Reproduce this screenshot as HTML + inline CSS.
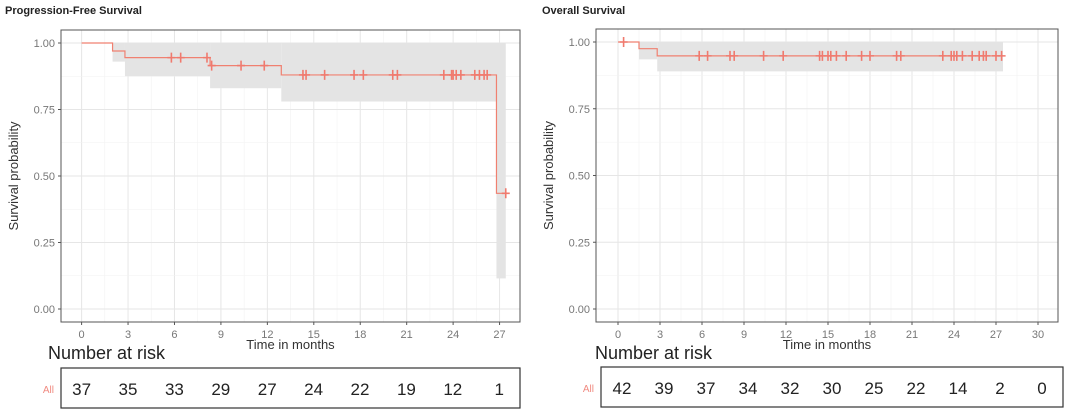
<!DOCTYPE html><html><head><style>
body{margin:0;background:#fff;width:1080px;height:409px;overflow:hidden;font-family:"Liberation Sans",sans-serif}
</style></head><body>
<svg id="s" width="1080" height="409" xmlns="http://www.w3.org/2000/svg" font-family="Liberation Sans, sans-serif"></svg>
<script>
const s=document.getElementById('s');let h='';
function panel(o){
 const X=t=>o.x0+t*o.px, Y=p=>o.y0+(o.y1-o.y0)*(1-p);
 h+=`<text x="${o.tx}" y="14" font-size="11" font-weight="bold" fill="#222">${o.title}</text>`;
 // grid
 for(let t=0;t<=o.max;t+=1.5){const x=X(t);if(x<o.L||x>o.R)continue;h+=`<line x1="${x}" x2="${x}" y1="${o.T}" y2="${o.B}" stroke="${t%3==0?'#e6e6e6':'#f2f2f2'}" stroke-width="${t%3==0?1:0.6}"/>`;}
 for(let p=0;p<=1.001;p+=0.125){const y=Y(p);h+=`<line x1="${o.L}" x2="${o.R}" y1="${y}" y2="${y}" stroke="${(p*8)%2==0?'#e6e6e6':'#f2f2f2'}" stroke-width="${(p*8)%2==0?1:0.6}"/>`;}
 // band
 for(const b of o.band)h+=`<rect x="${X(b[0])}" width="${X(b[1])-X(b[0])}" y="${Y(b[3])}" height="${Y(b[2])-Y(b[3])}" fill="#e4e4e4"/>`;
 // curve
 let d=`M${X(0)},${Y(1)}`;for(const st of o.steps){d+=` H${X(st[0])} V${Y(st[1])}`;}d+=` H${X(o.end)}`;
 h+=`<path d="${d}" fill="none" stroke="#f08070" stroke-width="1.2"/>`;
 for(const c of o.cens){const x=X(c[0]),y=Y(c[1]);h+=`<path d="M${x-4},${y}H${x+4}M${x},${y-5}V${y+5}" stroke="#f07a6e" stroke-width="1.6"/>`;}
 h+=`<rect x="${o.L}" y="${o.T}" width="${o.R-o.L}" height="${o.B-o.T}" fill="none" stroke="#555" stroke-width="1"/>`;
 for(const p of [0,0.25,0.5,0.75,1]){const y=Y(p);h+=`<text x="${o.L-6}" y="${y+4}" font-size="11" fill="#777" text-anchor="end">${p.toFixed(2)}</text><line x1="${o.L-3}" x2="${o.L}" y1="${y}" y2="${y}" stroke="#555"/>`;}
 for(let t=0;t<=o.max;t+=3){const x=X(t);h+=`<line x1="${x}" x2="${x}" y1="${o.B}" y2="${o.B+3}" stroke="#555"/><text x="${x}" y="${o.B+16}" font-size="11" fill="#777" text-anchor="middle">${t}</text>`;}
 h+=`<text x="${(o.L+o.R)/2}" y="${o.B+27}" font-size="13" fill="#333" text-anchor="middle">Time in months</text>`;
 h+=`<text transform="translate(${o.L-43},${(o.T+o.B)/2}) rotate(-90)" font-size="13" fill="#333" text-anchor="middle">Survival probability</text>`;
 h+=`<text x="${o.nx}" y="359" font-size="18" fill="#222">Number at risk</text>`;
 h+=`<rect x="${o.rL}" y="${o.rT}" width="${o.rR-o.rL}" height="40" fill="none" stroke="#333" stroke-width="1.2"/>`;
 h+=`<text x="${o.rL-7}" y="${o.rT+25}" font-size="10" fill="#f08a80" text-anchor="end">All</text>`;
 o.risk.forEach((n,i)=>{h+=`<text x="${o.rx0+i*o.rdx}" y="${o.rT+27}" font-size="17" fill="#222" text-anchor="middle">${n}</text>`;});
}
panel({title:'Progression-Free Survival',tx:5,L:61,R:520,T:30,B:322,x0:81.6,px:15.48,y0:43,y1:309,max:27,
 band:[[2,2.8,0.93,1],[2.8,8.3,0.875,1],[8.3,12.9,0.83,1],[12.9,26.8,0.78,1],[26.8,27.4,0.115,1]],
 steps:[[2,0.97],[2.8,0.945],[8.3,0.915],[12.9,0.88],[26.8,0.435]],end:27.4,
 cens:[[5.8,.945],[6.4,.945],[8.1,.945],[8.4,.915],[10.3,.915],[11.8,.915],[14.3,.88],[14.5,.88],[15.7,.88],[17.6,.88],[18.2,.88],[20.1,.88],[20.4,.88],[23.4,.88],[23.9,.88],[24.0,.88],[24.2,.88],[24.5,.88],[25.4,.88],[25.7,.88],[26.0,.88],[26.2,.88],[27.4,.435]],
 nx:48,rL:61,rR:520,rT:368,rx0:81.6,rdx:46.4,risk:[37,35,33,29,27,24,22,19,12,1]});
panel({title:'Overall Survival',tx:542,L:596,R:1058,T:29,B:322,x0:618,px:14.0,y0:42,y1:309,max:30,
 band:[[1.5,2.8,0.935,1],[2.8,27.5,0.89,1]],
 steps:[[1.5,0.975],[2.8,0.948]],end:27.5,
 cens:[[0.4,1],[5.8,.948],[6.4,.948],[8.0,.948],[8.3,.948],[10.4,.948],[11.8,.948],[14.4,.948],[14.6,.948],[15.0,.948],[15.2,.948],[15.6,.948],[16.3,.948],[17.4,.948],[18.0,.948],[19.9,.948],[20.2,.948],[23.2,.948],[23.8,.948],[24.0,.948],[24.2,.948],[24.6,.948],[25.3,.948],[25.8,.948],[26.1,.948],[26.3,.948],[27.0,.948],[27.4,.948]],
 nx:595,rL:601,rR:1063,rT:367,rx0:622,rdx:42,risk:[42,39,37,34,32,30,25,22,14,2,0]});
s.innerHTML=h;
</script></body></html>
